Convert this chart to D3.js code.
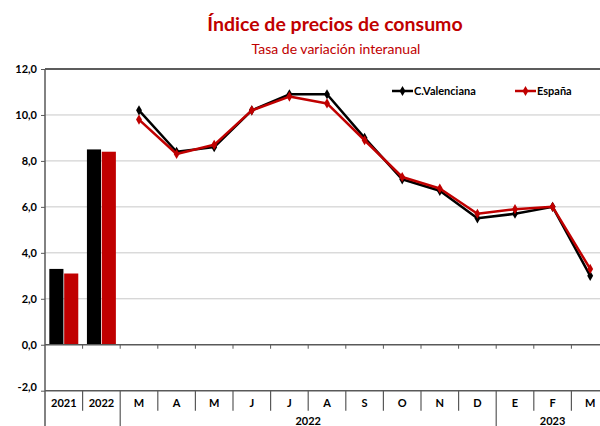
<!DOCTYPE html>
<html>
<head>
<meta charset="utf-8">
<script src="https://cdn.jsdelivr.net/npm/d3@7"></script>
<style>
  html, body { margin: 0; padding: 0; background: #fff; }
  svg { display: block; }
</style>
</head>
<body>
<div id="chart"></div>
<script>
const WIDTH = 600;
const HEIGHT = 426;

// data
const CATEGORIES = ["2021", "2022", "M", "A", "M ", "J", "J ", "A ", "S", "O", "N", "D", "E", "F", "M  "];
const BAR_CATS = ["2021", "2022"];
const MONTH_CATS = CATEGORIES.slice(2);
const SERIES = ["C.Valenciana", "España"];
const BAR_CV = [3.3, 8.5];
const BAR_ES = [3.1, 8.4];
const LINE_CV = [10.2, 8.4, 8.6, 10.2, 10.9, 10.9, 9.0, 7.2, 6.7, 5.5, 5.7, 6.0, 3.0];
const LINE_ES = [9.8, 8.3, 8.7, 10.2, 10.8, 10.5, 8.9, 7.3, 6.8, 5.7, 5.9, 6.0, 3.3];
const Y_TICKS = [-2, 0, 2, 4, 6, 8, 10, 12];
const YEAR_GROUPS = [
  {label: "2022", from: "M", to: "D"},
  {label: "2023", from: "E", to: "M  "}
];

const COLORS = ["#000000", "#c00000"];
const AXIS_COLOR = "#595959";
const FONT = "Lato, 'Open Sans', sans-serif";

const PLOT_LEFT = 45;
const PLOT_RIGHT = 609;
const PLOT_TOP = 69;
const PLOT_BOTTOM = 390.7;

const svg = d3.select("#chart").append("svg")
  .attr("width", WIDTH)
  .attr("height", HEIGHT);

svg.append("rect")
  .attr("width", WIDTH)
  .attr("height", HEIGHT)
  .attr("fill", "#fff");

const x = d3.scaleBand().domain(CATEGORIES).range([PLOT_LEFT, PLOT_RIGHT]).padding(0);
const y = d3.scaleLinear().domain([-2, 12]).range([PLOT_BOTTOM, PLOT_TOP]);
const bw = x.bandwidth();
const xInner = d3.scaleBand().domain(SERIES).range([bw * 0.115, bw * 0.885]).paddingInner(0.05);

// Title
svg.append("text")
  .attr("x", 335).attr("y", 31)
  .attr("text-anchor", "middle")
  .style("font-family", FONT)
  .style("font-weight", "bold")
  .style("font-size", "19.5px")
  .attr("fill", "#c00000")
  .text("Índice de precios de consumo");

svg.append("text")
  .attr("x", 336).attr("y", 54)
  .attr("text-anchor", "middle")
  .style("font-family", FONT)
  .style("font-size", "14px")
  .attr("fill", "#c00000")
  .text("Tasa de variación interanual");

// gridlines
svg.append("g")
  .selectAll("line")
  .data(Y_TICKS.filter(d => d > -2 && d < 12 && d !== 0))
  .join("line")
  .attr("x1", PLOT_LEFT).attr("x2", WIDTH)
  .attr("y1", d => y(d)).attr("y2", d => y(d))
  .attr("stroke", "#c8c8c8")
  .attr("stroke-width", 1);

// top border
svg.append("line")
  .attr("x1", PLOT_LEFT).attr("x2", WIDTH)
  .attr("y1", y(12)).attr("y2", y(12))
  .attr("stroke", "#262626").attr("stroke-width", 1.5);

// Y axis
const yAxis = svg.append("g")
  .attr("transform", "translate(" + PLOT_LEFT + ",0)")
  .call(d3.axisLeft(y).tickValues(Y_TICKS).tickSize(4)
    .tickFormat(d => d3.format(".1f")(d).replace(".", ",").replace("−", "-")));
yAxis.select(".domain").remove();
yAxis.selectAll(".tick line").attr("stroke", AXIS_COLOR);
yAxis.selectAll(".tick text")
  .attr("x", -8)
  .attr("dy", d => d === -2 ? "0" : "0.32em")
  .style("font-family", FONT)
  .style("font-weight", "bold")
  .style("font-size", "11px")
  .attr("fill", "#000");

svg.append("line")
  .attr("x1", PLOT_LEFT).attr("x2", PLOT_LEFT)
  .attr("y1", PLOT_TOP).attr("y2", HEIGHT)
  .attr("stroke", AXIS_COLOR).attr("stroke-width", 1.5);

// bars
const barData = BAR_CATS.map((c, i) => [
  {cat: c, s: SERIES[0], v: BAR_CV[i]},
  {cat: c, s: SERIES[1], v: BAR_ES[i]}
]).flat();

svg.append("g")
  .selectAll("rect")
  .data(barData)
  .join("rect")
  .attr("x", d => x(d.cat) + xInner(d.s))
  .attr("width", xInner.bandwidth())
  .attr("y", d => y(d.v))
  .attr("height", d => y(0) - y(d.v))
  .attr("fill", d => COLORS[SERIES.indexOf(d.s)]);

// zero line with ticks
svg.append("line")
  .attr("x1", PLOT_LEFT).attr("x2", WIDTH)
  .attr("y1", y(0)).attr("y2", y(0))
  .attr("stroke", AXIS_COLOR).attr("stroke-width", 1.5);

svg.append("g")
  .selectAll("line")
  .data(CATEGORIES.slice(1))
  .join("line")
  .attr("x1", d => x(d)).attr("x2", d => x(d))
  .attr("y1", y(0)).attr("y2", y(0) + 4)
  .attr("stroke", AXIS_COLOR);

// category axis at bottom
svg.append("line")
  .attr("x1", PLOT_LEFT).attr("x2", WIDTH)
  .attr("y1", PLOT_BOTTOM).attr("y2", PLOT_BOTTOM)
  .attr("stroke", AXIS_COLOR).attr("stroke-width", 1.5);

const groupStarts = YEAR_GROUPS.map(g => g.from);
svg.append("g")
  .selectAll("line")
  .data(CATEGORIES.slice(1))
  .join("line")
  .attr("x1", d => x(d)).attr("x2", d => x(d))
  .attr("y1", PLOT_BOTTOM)
  .attr("y2", d => groupStarts.includes(d) ? HEIGHT : PLOT_BOTTOM + 20)
  .attr("stroke", AXIS_COLOR).attr("stroke-width", 1.2);

svg.append("g")
  .selectAll("text")
  .data(CATEGORIES)
  .join("text")
  .attr("x", d => x(d) + bw / 2)
  .attr("y", PLOT_BOTTOM + 16)
  .attr("text-anchor", "middle")
  .style("font-family", FONT)
  .style("font-weight", "bold")
  .style("font-size", "11px")
  .text(d => d.trim());

svg.append("g")
  .selectAll("text")
  .data(YEAR_GROUPS)
  .join("text")
  .attr("x", d => (x(d.from) + x(d.to) + bw) / 2)
  .attr("y", HEIGHT - 1)
  .attr("text-anchor", "middle")
  .style("font-family", FONT)
  .style("font-weight", "bold")
  .style("font-size", "11px")
  .text(d => d.label);

// lines
const line = d3.line()
  .x(d => x(d.cat) + bw / 2)
  .y(d => y(d.v));

const diamond = d3.symbol().type(d3.symbolDiamond).size(30);

[LINE_CV, LINE_ES].forEach((vals, si) => {
  const pts = MONTH_CATS.map((c, i) => ({cat: c, v: vals[i]}));
  svg.append("path")
    .datum(pts)
    .attr("d", line)
    .attr("fill", "none")
    .attr("stroke", COLORS[si])
    .attr("stroke-width", 2.5)
    .attr("stroke-linejoin", "round");
  svg.append("g")
    .selectAll("path")
    .data(pts)
    .join("path")
    .attr("d", diamond)
    .attr("transform", d => "translate(" + (x(d.cat) + bw / 2) + "," + y(d.v) + ")")
    .attr("fill", COLORS[si]);
});

// legend
const LEGEND = [
  {name: SERIES[0], x0: 392, color: COLORS[0]},
  {name: SERIES[1], x0: 515, color: COLORS[1]}
];
const lg = svg.append("g").selectAll("g").data(LEGEND).join("g")
  .attr("transform", d => "translate(" + d.x0 + ",91)");
lg.append("line")
  .attr("x1", 0).attr("x2", 21)
  .attr("stroke", d => d.color).attr("stroke-width", 2.5);
lg.append("path")
  .attr("d", diamond)
  .attr("transform", "translate(10.5,0)")
  .attr("fill", d => d.color);
lg.append("text")
  .attr("x", 22).attr("dy", "0.35em")
  .style("font-family", FONT)
  .style("font-weight", "bold")
  .style("font-size", "11px")
  .text(d => d.name);
</script>
</body>
</html>
